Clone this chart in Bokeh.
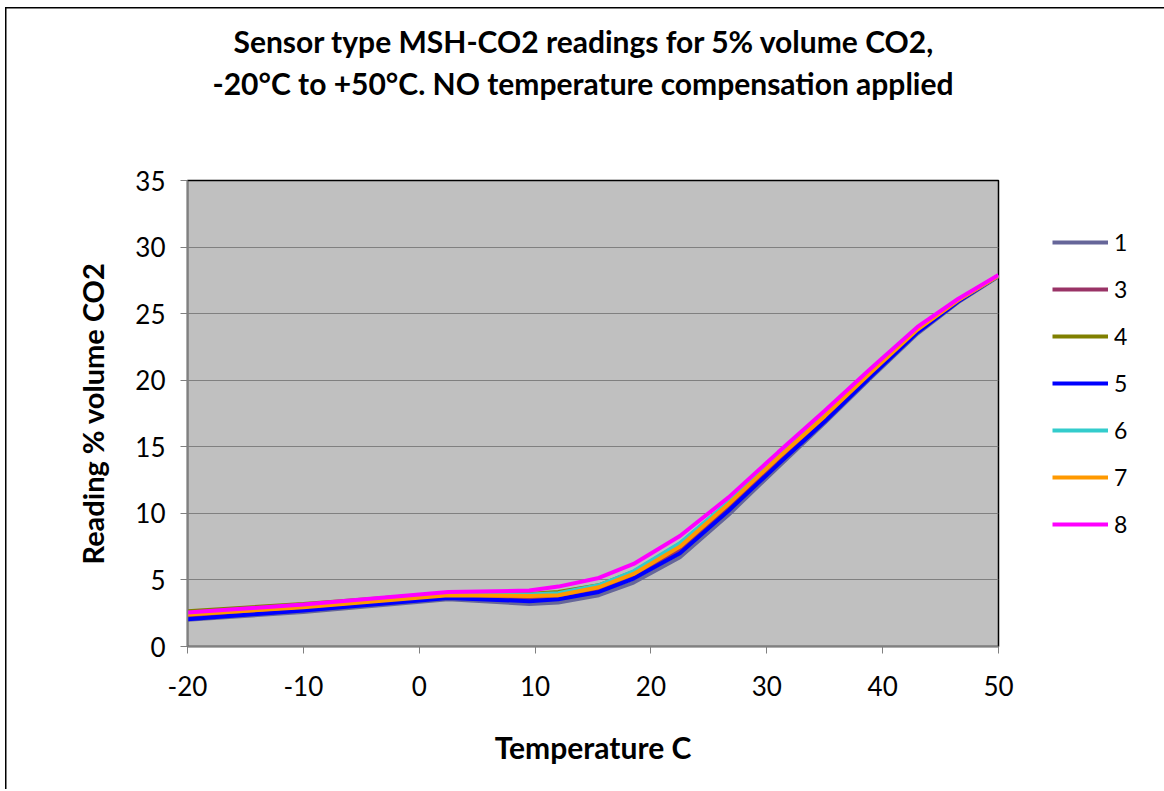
from bokeh.plotting import figure
from bokeh.models import Range1d, FixedTicker, Legend, LegendItem, Title
from bokeh.embed import file_html
from bokeh.resources import INLINE

# ---- data ----
temperature = [-20, -10, 2.5, 9.5, 12, 15.5, 18.5, 22.5, 26.7, 31, 35, 39, 43, 46.5, 50]
sensor_1 = [2.0, 2.6, 3.55, 3.2, 3.3, 3.85, 4.8, 6.7, 9.9, 13.5, 16.8, 20.2, 23.5, 25.85, 27.8]
sensor_3 = [2.3, 2.85, 3.75, 3.6, 3.7, 4.3, 5.3, 7.3, 10.5, 14.0, 17.1, 20.5, 23.7, 25.95, 27.85]
sensor_4 = [2.65, 3.2, 4.0, 3.95, 4.1, 4.6, 5.6, 7.7, 10.8, 14.3, 17.4, 20.7, 23.9, 26.0, 27.85]
sensor_5 = [2.05, 2.7, 3.65, 3.4, 3.55, 4.1, 5.1, 7.0, 10.2, 13.7, 16.9, 20.3, 23.6, 25.9, 27.85]
sensor_6 = [2.45, 3.0, 3.9, 3.9, 4.0, 4.6, 5.65, 7.75, 10.85, 14.3, 17.4, 20.7, 23.9, 26.05, 27.85]
sensor_7 = [2.4, 2.95, 3.85, 3.8, 3.85, 4.45, 5.45, 7.5, 10.7, 14.2, 17.3, 20.6, 23.8, 26.0, 27.85]
sensor_8 = [2.55, 3.15, 4.1, 4.2, 4.5, 5.15, 6.2, 8.3, 11.2, 14.6, 17.7, 20.9, 24.0, 26.1, 27.9]

series_names = ["1", "3", "4", "5", "6", "7", "8"]
series_values = [sensor_1, sensor_3, sensor_4, sensor_5, sensor_6, sensor_7, sensor_8]
series_colors = ["#666699", "#993366", "#808000", "#0000FF", "#33CCCC", "#FF9900", "#FF00FF"]

x_ticks = [-20, -10, 0, 10, 20, 30, 40, 50]
x_tick_labels = ["-20", "-10", "0", "10", "20", "30", "40", "50"]
y_ticks = [0, 5, 10, 15, 20, 25, 30, 35]

title_line1 = "Sensor type MSH-CO2 readings for 5% volume CO2,"
title_line2 = "-20°C to +50°C. NO  temperature compensation applied"
x_title = "Temperature C"
y_title = "Reading % volume CO2"

FONT = "Lato"

p = figure(frame_width=811, frame_height=466,
           x_range=Range1d(-20, 50), y_range=Range1d(0, 35),
           output_backend="svg", toolbar_location=None,
           min_border_left=187, min_border_right=164,
           min_border_top=180, min_border_bottom=143)

p.styles = {"box-shadow": "inset 5px 7px 0 0 #ffffff, inset 6.5px 8.5px 0 0 #000000",
            "background-color": "#ffffff"}

p.background_fill_color = "#C0C0C0"
p.border_fill_color = None
p.outline_line_color = "black"
p.outline_line_width = 1.5

p.xgrid.visible = False
p.ygrid.grid_line_color = "#808080"
p.ygrid.grid_line_width = 1

p.xaxis.ticker = FixedTicker(ticks=x_ticks)
p.yaxis.ticker = FixedTicker(ticks=y_ticks)
p.xaxis.major_label_overrides = dict(zip(x_ticks, x_tick_labels))

for ax in (p.xaxis, p.yaxis):
    ax.axis_line_color = "#808080"
    ax.axis_line_width = 1.5
    ax.major_tick_line_color = "#808080"
    ax.major_tick_out = 7
    ax.major_tick_in = 0
    ax.minor_tick_line_color = None
    ax.major_label_text_font = FONT
    ax.major_label_text_font_size = "26px"
    ax.major_label_text_color = "black"
    ax.axis_label_text_font = FONT
    ax.axis_label_text_font_style = "bold"
    ax.axis_label_text_color = "black"

p.xaxis.axis_label = x_title
p.yaxis.axis_label = y_title
p.xaxis.axis_label_text_font_size = "30px"
p.yaxis.axis_label_text_font_size = "29px"
p.xaxis.major_label_standoff = 22
p.xaxis.axis_label_standoff = 30
p.yaxis.major_label_standoff = 15
p.yaxis.axis_label_standoff = 22

items = []
for name, vals, col in zip(series_names, series_values, series_colors):
    r = p.line(temperature, vals, line_color=col, line_width=4)
    items.append(LegendItem(label=name, renderers=[r]))

legend = Legend(items=items, location=(54, 108), orientation="vertical",
                glyph_width=56, glyph_height=20, label_height=20,
                spacing=19, padding=0, margin=0, label_standoff=6,
                border_line_color=None, background_fill_alpha=0,
                label_text_font=FONT, label_text_font_size="23px",
                label_text_color="black")
p.add_layout(legend, "right")

# spacer (closest to the frame), then the two title lines
p.add_layout(Title(text=" ", text_font_size="1px", standoff=75), "above")
p.add_layout(Title(text=title_line2, align="left", offset=25, standoff=4,
                   text_font=FONT, text_font_size="30px", text_font_style="bold",
                   text_color="black"), "above")
p.add_layout(Title(text=title_line1, align="left", offset=46, standoff=4,
                   text_font=FONT, text_font_size="30px", text_font_style="bold",
                   text_color="black"), "above")

open("out.html", "w").write(file_html(p, INLINE))
